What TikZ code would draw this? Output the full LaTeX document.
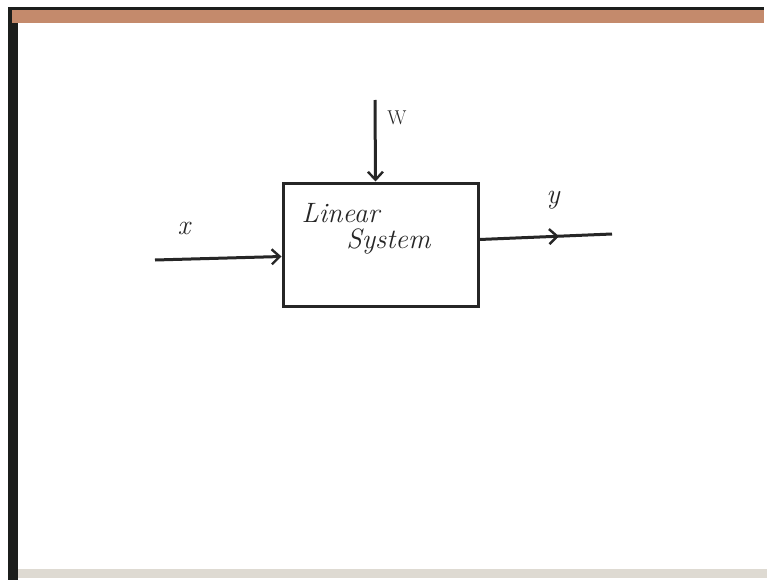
\documentclass[tikz,border=0pt]{standalone}
\usepackage{amsmath}
\usetikzlibrary{calc, arrows.meta, decorations.markings}

\definecolor{boardtop}{RGB}{196,138,108}
\definecolor{boardside}{RGB}{28,30,28}
\definecolor{boardfoot}{RGB}{222,218,210}

\begin{document}
\begin{tikzpicture}[
            x=1pt, y=-1pt,
            pen/.style={line width=3pt, draw=black!85},
            tip/.style={-{Straight Barb[length=8pt, width=15pt, line width=2.4pt]}},
            mid arrow/.style={
                postaction={decorate, decoration={
                    markings,
                    mark=at position 0.6 with {\arrow{Straight Barb[length=8pt, width=15pt, line width=2.4pt]}}
                }}
            },
            hand/.style={font=\fontsize{28}{30}\selectfont\itshape, text=black!85}
        ]

            \useasboundingbox (0,0) rectangle (767,580);
            \fill[white] (0,0) rectangle (767,580);

            % board edges
            \fill[boardside] (8,7) rectangle (18,580);
            \fill[boardside] (8,7) rectangle (764,10);
            \fill[boardtop] (12,10) rectangle (764,23);
            \fill[boardfoot] (18,569) rectangle (767,578);

            \node[draw, pen, minimum width=195pt, minimum height=123pt, inner sep=0pt] (sys) at (380.5,244.5) {};
            \node[hand, align=left] (systxt) at (366,229) {Linear\\[-4pt]\hspace{1.6em}System};

            \coordinate (xin) at (155,260);
            \coordinate (yout) at (612,234);
            \coordinate (win) at (375,100);

            \draw[pen, tip] (xin) -- ($(sys.west)+(0,12)$);
            \draw[pen, tip] (win) -- ($(sys.north)+(-5,0)$);
            \draw[pen, mid arrow] ($(sys.east)+(0,-5)$) -- (yout);

            \node[hand] (xlbl) at (184,228) {x};
            \node[hand, font=\fontsize{20}{22}\selectfont] (wlbl) at (397,118) {W};
            \node[hand] (ylbl) at (553,200) {y};
        \end{tikzpicture}
\end{document}
